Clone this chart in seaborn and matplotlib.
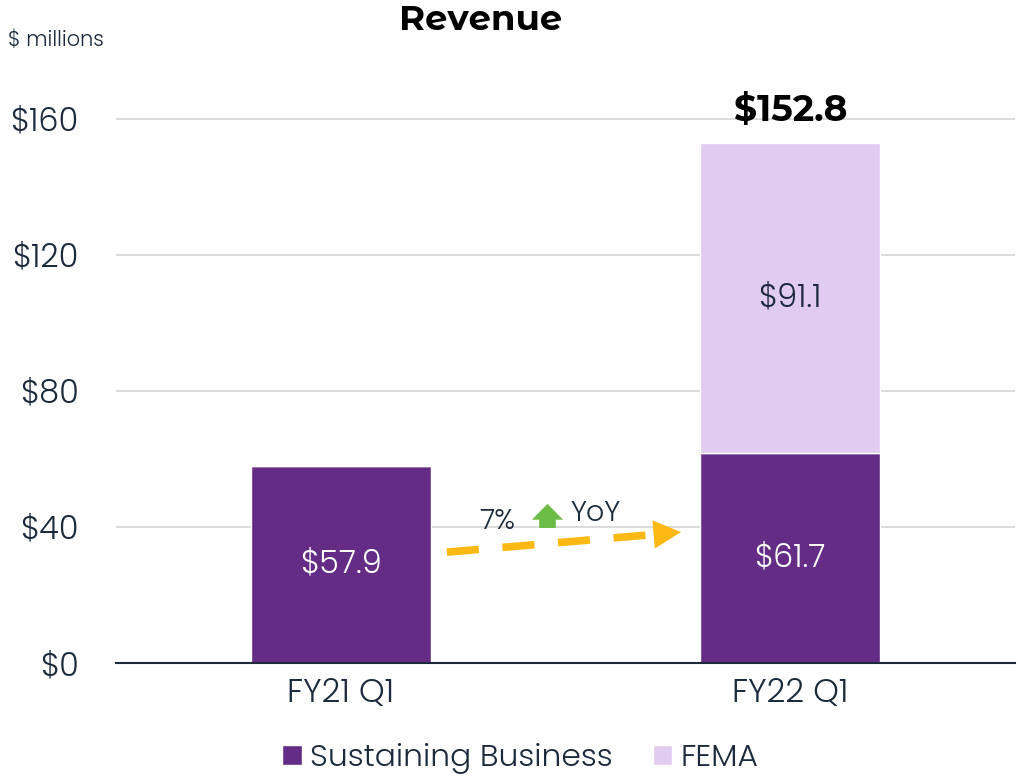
import matplotlib
matplotlib.use("Agg")
import matplotlib.pyplot as plt
import seaborn as sns
import pandas as pd

# --- DADOS ---
periods = ["FY21 Q1", "FY22 Q1"]
sustaining = [57.9, 61.7]
fema = [0.0, 91.1]
totals = [57.9, 152.8]
yticks = [0, 40, 80, 120, 160]

PURPLE = "#652C86"
LAVENDER = "#E1CCEF"
NAVY = "#1B2A3C"
GOLD = "#FDB913"
GREEN = "#6BBD45"
BOLD_FONT = ["Montserrat Alternates", "Poppins", "DejaVu Sans"]

sns.set_theme(style="white")
plt.rcParams["font.family"] = ["Poppins", "Lato", "DejaVu Sans"]
plt.rcParams["font.weight"] = 300

df = pd.DataFrame({"period": periods, "sustaining": sustaining,
                   "fema": fema, "total": totals})

fig = plt.figure(figsize=(10.18, 7.77), dpi=100)
ax = fig.add_axes([0.114, 0.1467, 0.883, 0.744])

# barras empilhadas
sns.barplot(data=df, x="period", y="sustaining", color=PURPLE, width=0.4,
            saturation=1, ax=ax, label="Sustaining Business", zorder=3)
sns.barplot(data=df, x="period", y="fema", color=LAVENDER, width=0.4,
            saturation=1, ax=ax, bottom=df["sustaining"], label="FEMA", zorder=3)

ax.set_xlim(-0.5, 1.5)
ax.set_ylim(0, 170)
ax.set_yticks(yticks)
ax.set_yticklabels([f"${v}" for v in yticks])
ax.set_xlabel("")
ax.set_ylabel("")
ax.grid(axis="y", color="#D9D9D9", linewidth=1.3, zorder=0)
for s in ["top", "right", "left"]:
    ax.spines[s].set_visible(False)
ax.spines["bottom"].set_color(NAVY)
ax.spines["bottom"].set_linewidth(1.5)
ax.spines["bottom"].set_zorder(4)
ax.tick_params(axis="both", length=0, colors=NAVY)
ax.tick_params(axis="y", labelsize=23, pad=27)
ax.tick_params(axis="x", labelsize=23.5, pad=11)

# rótulos dentro das barras
for i, v in enumerate(sustaining):
    ax.text(i, v / 2, f"${v:.1f}", ha="center", va="center",
            color="white", fontsize=23, zorder=5)
for i, v in enumerate(fema):
    if v > 0:
        ax.text(i, sustaining[i] + v / 2, f"${v:.1f}", ha="center",
                va="center", color=NAVY, fontsize=23, zorder=5)
ax.text(1, totals[1] + 6.6, f"${totals[1]:.1f}", ha="center", va="baseline",
        fontsize=26, fontweight="bold", color="black", family=BOLD_FONT)

# seta de crescimento YoY
ax.plot([0.236, 0.706], [32.6, 37.9], color=GOLD, lw=5.5,
        dashes=(4.2, 3.1), solid_capstyle="butt", dash_capstyle="butt", zorder=5)
ax.annotate("", xy=(0.757, 38.5), xytext=(0.704, 37.9),
            arrowprops=dict(arrowstyle="-|>,head_length=1.65,head_width=0.85",
                            color=GOLD, lw=0, shrinkA=0, shrinkB=0), zorder=5)
ax.text(0.349, 41.5, "7%", ha="center", va="center", fontsize=20.5,
        color=NAVY, zorder=5)
ax.annotate("", xy=(0.46, 46.8), xytext=(0.46, 39.7),
            arrowprops=dict(arrowstyle="simple,head_length=0.95,head_width=1.87,tail_width=1.0",
                            color=GREEN, lw=0, shrinkA=0, shrinkB=0), zorder=5)
ax.text(0.567, 43.8, "YoY", ha="center", va="center", fontsize=20.5,
        color=NAVY, zorder=5)

fig.text(0.4725, 0.974, "Revenue", ha="center", va="center",
         fontsize=25.5, fontweight="bold", color="black", family=BOLD_FONT)
fig.text(0.008, 0.947, "$ millions", ha="left", va="center",
         fontsize=15, color=NAVY)

handles, labels = ax.get_legend_handles_labels()
if ax.legend_:
    ax.legend_.remove()
fig.legend(handles, labels, loc="center", bbox_to_anchor=(0.511, 0.024),
           ncol=2, frameon=False, fontsize=22.5, handlelength=0.62,
           handleheight=0.62, handletextpad=0.25, columnspacing=1.3,
           labelcolor=NAVY, borderpad=0)

fig.savefig("out.png", dpi=100)
